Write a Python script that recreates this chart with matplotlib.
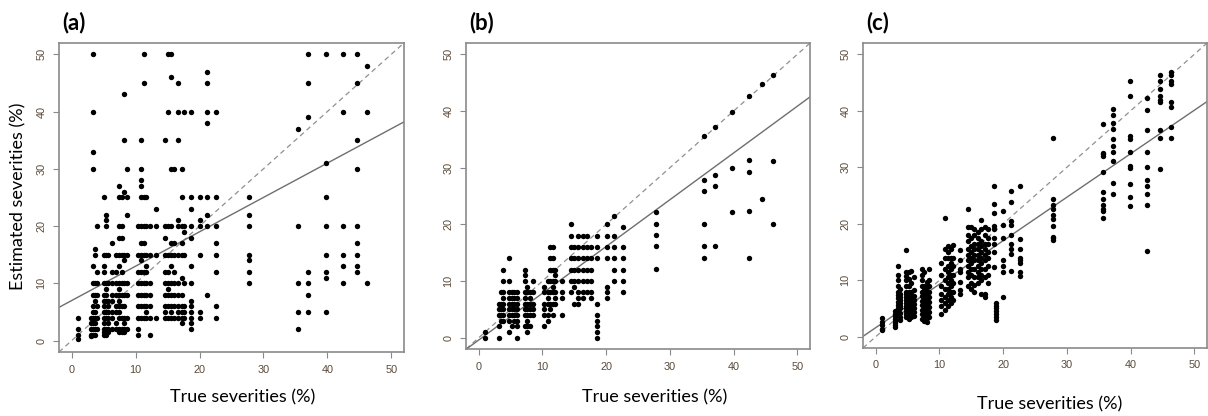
import numpy as np
import matplotlib as mpl
mpl.use('Agg')
import matplotlib.pyplot as plt

## Panel (a) - true severity columns and the estimates in each
a_true = [1.0, 3.0, 3.3, 3.7, 4.0, 5.0, 5.3, 5.7, 6.3, 7.0, 7.4, 7.8, 8.2, 8.6,
          10.3, 10.8, 11.3, 11.7, 12.2, 13.2, 14.6, 15.0, 15.6, 16.0, 16.6, 17.2,
          17.6, 18.6, 20.0, 21.2, 22.6, 27.8, 35.4, 37.0, 39.8, 42.4, 44.6, 46.2]
a_est = [[0.3, 1, 2, 4],
         [0.8, 1, 2, 3, 4],
         [1, 2, 3, 4, 5, 6, 8, 10, 13, 30, 33, 40, 50],
         [1, 2, 3, 4, 5, 7, 8, 10, 15, 16],
         [2, 4, 6, 8, 10, 12, 20],
         [1, 1.5, 2, 3, 4, 5, 6, 7, 8, 10, 12, 13, 15, 25],
         [1, 2, 4, 5, 7, 8, 9, 10, 15, 20, 21, 22],
         [1.5, 2, 3, 4, 5, 6, 7, 10, 15],
         [2, 4, 5, 7, 8, 10, 12, 17],
         [2, 3, 5, 6, 8, 10, 12, 15],
         [1.5, 2, 4, 5, 6, 7, 8, 9, 10, 13, 15, 18, 20, 25, 27],
         [1.5, 2, 4, 6, 8, 10, 12, 15, 18, 20, 25],
         [1.5, 2, 3, 4, 6, 8, 10, 14, 15, 26, 35, 43],
         [2, 4, 8, 10, 15, 22, 25, 30],
         [1, 2, 4, 6, 8, 10, 12, 15, 20],
         [4, 6, 8, 10, 12, 14, 15, 17, 20, 25, 27, 28, 30, 35],
         [4, 6, 8, 10, 12, 15, 17, 20, 25, 45, 50],
         [4, 5, 6, 8, 10, 12, 13, 15, 20, 25],
         [1, 4, 6, 8, 10, 15, 20],
         [4, 15, 20, 23],
         [4, 5, 6, 8, 10, 12, 15, 18, 20, 35],
         [4, 6, 8, 9, 10, 12, 15, 20, 40, 50],
         [4, 5, 6, 8, 10, 13, 15, 17, 20, 30, 46, 50],
         [4, 6, 8, 10, 12, 15, 17, 30],
         [4, 5, 6, 8, 10, 15, 20, 21, 35, 40, 45],
         [3, 4, 5, 6, 8, 11, 15, 17, 20, 25, 30],
         [4, 5, 6, 10, 15, 19, 20, 40],
         [2, 3, 4, 5, 6, 7, 10, 13, 18, 20, 23, 25, 40],
         [4, 5, 15, 20, 21, 25],
         [8, 20, 22, 25, 38, 40, 45, 47],
         [4, 6, 12, 15, 17, 20, 25, 40],
         [10, 12, 14, 15, 20, 22, 25],
         [2, 5, 10, 20, 37],
         [5, 8, 10, 12, 39, 45, 50],
         [5, 11, 12, 15, 20, 25, 31, 50],
         [10, 13, 15, 20, 40, 50],
         [12, 13, 15, 17, 20, 30, 35, 45, 50],
         [10, 40, 48]]
a_fit = (7.0, 0.6)  # intercept, slope

## Panel (b)
b_true = [1.0, 3.1, 3.5, 3.8, 4.8, 5.2, 5.6, 6.0, 7.2, 7.6, 8.0, 8.5, 10.2, 10.8,
          11.2, 11.6, 12.0, 13.1, 14.4, 14.9, 15.6, 16.3, 17.0, 17.6, 18.6, 20.2,
          21.3, 22.6, 27.8, 35.4, 37.0, 39.8, 42.4, 44.5, 46.2]
b_est = [[0, 1],
         [0, 2, 4, 5, 6],
         [3, 4, 5, 6, 8],
         [3, 4, 5, 6, 7, 8, 10, 12],
         [1, 3, 4, 5, 6, 7, 8, 10, 14],
         [2, 4, 5, 6, 7, 8],
         [3, 4, 5, 6, 7, 8],
         [0, 2, 3, 4, 5, 6, 7, 8],
         [2, 4, 5, 6, 7, 8, 10, 11, 12],
         [1, 2, 3, 4, 5, 6, 8, 9],
         [2, 4, 5, 6, 7, 8],
         [4, 5, 6, 8, 10],
         [2, 4, 5, 6, 8, 9],
         [3, 4, 6, 7, 8, 10],
         [5, 6, 8, 10, 12, 14, 16],
         [4, 6, 8, 9, 10, 12, 14, 16],
         [6, 7, 8, 10, 11, 12],
         [4, 7, 8, 10],
         [8, 10, 12, 14, 16, 18, 20],
         [6, 9, 10, 12, 14, 16],
         [6, 7, 8, 10, 12, 14, 16, 18],
         [7, 8, 10, 12, 14, 16, 18],
         [8, 10, 12, 14, 16, 18],
         [7, 8, 10, 12, 14, 16],
         [0, 1, 2, 3, 4, 6, 14, 16, 18],
         [7, 8, 9, 14, 16, 18, 20],
         [10, 12, 14, 16, 18, 21.4],
         [8, 10, 12, 14, 16, 19.5],
         [12.1, 16.1, 18.2, 20.1, 22.1],
         [14.1, 16.1, 20.1, 25.9, 27.9, 35.6],
         [16.1, 26.7, 28.7, 37.2],
         [22.1, 30.0, 39.9],
         [14.1, 22.3, 29.3, 31.3, 42.6],
         [24.4, 44.7],
         [20.1, 31.2, 46.3]]
b_fit = (-0.4, 0.825)

## Panel (c)
c_true = [1.0, 3.1, 3.5, 3.8, 4.8, 5.2, 5.6, 6.0, 7.3, 7.6, 8.0, 8.4, 10.2, 10.9,
          11.4, 11.8, 12.2, 13.2, 14.5, 15.0, 15.5, 16.0, 16.6, 17.2, 17.6, 18.6,
          18.8, 20.0, 21.2, 22.6, 27.9, 35.6, 37.2, 39.9, 42.6, 44.6, 46.4]
c_est = [[1.1, 1.4, 2.0, 2.6, 3.3],
         [1.8, 2.1, 2.4, 2.8, 3.2, 3.6, 4.0, 4.5],
         [3.8, 4.5, 5.0, 5.6, 6.2, 6.8, 7.3, 8.0, 9.0, 10.0, 11.0, 12.6],
         [3.0, 3.5, 4.2, 5.0, 5.5, 6.0, 6.5, 7.0, 7.5, 8.5],
         [3.4, 4.0, 4.5, 5.0, 5.5, 6.0, 6.5, 7.0, 7.5, 8.0, 9.0, 10.0, 10.8, 11.5, 15.4],
         [3.2, 3.8, 4.4, 5.0, 5.6, 6.2, 6.8, 7.4, 8.0, 9.0, 10.2, 11.4],
         [3.5, 4.2, 4.8, 5.4, 6.0, 6.6, 7.2, 8.0, 9.5, 11.6],
         [3.6, 4.3, 5.0, 5.8, 6.5, 7.2, 8.2, 10.5],
         [3.2, 4.0, 4.8, 5.6, 6.4, 7.2, 8.0, 9.0, 10.0, 11.0, 12.0],
         [2.8, 3.5, 4.2, 5.0, 5.8, 6.6, 7.4, 8.2, 9.0, 11.5],
         [2.6, 3.3, 4.0, 4.8, 5.6, 6.4, 7.2, 8.0, 8.8, 9.6],
         [3.5, 4.4, 5.3, 6.2, 7.1, 8.0, 9.0, 10.0, 12.0],
         [4.0, 5.5, 6.5, 7.5, 9.0, 11.0, 13.0],
         [4.8, 6.0, 7.0, 8.5, 10.0, 12.0, 14.0, 15.5, 21.0],
         [5.5, 6.5, 7.5, 8.5, 9.5, 10.5, 11.5, 12.5, 14.0, 15.0, 16.0],
         [6.0, 7.0, 8.0, 9.0, 10.0, 11.0, 12.0, 13.0, 14.0, 15.5],
         [6.5, 8.0, 9.5, 11.0, 12.5, 14.0, 16.3],
         [7.6, 8.2, 9.6, 11.5, 12.0, 13.5, 15.3],
         [9.0, 10.5, 11.5, 12.5, 13.5, 14.5, 15.5, 17.0, 18.0, 19.5, 22.7],
         [8.5, 9.5, 11.0, 12.0, 13.0, 14.0, 15.0, 16.0, 17.5, 19.5],
         [8.0, 9.2, 10.5, 12.0, 13.5, 14.5, 15.5, 16.5, 18.0, 19.0],
         [9.5, 10.5, 11.5, 12.5, 13.5, 14.5, 15.5, 16.5, 17.5, 18.5],
         [7.5, 10.0, 11.0, 12.0, 13.0, 14.0, 15.0, 16.0, 17.0, 19.0, 20.6],
         [7.0, 7.5, 10.5, 12.0, 13.5, 14.5, 15.5, 16.5, 18.0, 19.5],
         [9.5, 11.0, 12.5, 14.0, 15.0, 16.5, 17.5, 19.0],
         [12.3, 15.0, 16.5, 17.5, 19.0, 19.6, 21.9, 23.5, 26.7],
         [3.0, 3.5, 4.0, 4.5, 5.0, 5.5, 6.0],
         [7.0, 11.5, 12.5, 13.6, 17.5, 19.7, 22.3],
         [11.7, 14.7, 15.6, 16.5, 18.0, 19.7, 20.4, 23.8, 25.8],
         [10.8, 11.5, 13.0, 13.5, 14.0, 15.5, 17.3, 26.7],
         [17.1, 17.4, 17.6, 19.6, 20.8, 21.6, 22.6, 23.4, 24.3, 35.2],
         [21.1, 22.3, 22.7, 23.4, 24.3, 25.7, 29.2, 32.0, 32.3, 32.6, 37.6],
         [25.3, 27.2, 31.2, 32.7, 33.8, 35.0, 36.7, 37.9, 39.2, 40.3],
         [23.2, 24.7, 27.1, 29.8, 30.2, 32.7, 35.0, 35.6, 42.7, 45.2],
         [15.1, 23.4, 25.3, 26.7, 27.8, 30.1, 32.7, 36.6, 40.2, 42.2],
         [29.7, 35.2, 36.6, 41.5, 42.0, 42.6, 43.8, 45.2, 46.4],
         [35.2, 37.1, 40.6, 41.6, 44.7, 45.2, 46.4, 46.8]]
c_fit = (1.6, 0.77)

panels = [('(a)', a_true, a_est, a_fit, [0.0488, 0.1538, 0.2856, 0.743]),
          ('(b)', b_true, b_est, b_fit, [0.3858, 0.1610, 0.2848, 0.7356]),
          ('(c)', c_true, c_est, c_fit, [0.7144, 0.1635, 0.2848, 0.7330])]
xlab_pos = [(243, 397), (655, 397), (1050, 404)]  # pixel centres of x labels

W, H = 1208, 416
fig = plt.figure(figsize=(W / 100, H / 100), dpi=100)

for (tag, xs, ys, fit, rect), (lx, ly) in zip(panels, xlab_pos):
    ax = fig.add_axes(rect)
    px = np.concatenate([[x] * len(v) for x, v in zip(xs, ys)])
    py = np.concatenate([v for v in ys])
    ax.scatter(px, py, s=15, c='black', linewidths=0, zorder=3)
    ax.axline((0, 0), slope=1, color='#909090', lw=0.9, ls=(0, (4, 3)), zorder=2)
    ax.axline((0, fit[0]), slope=fit[1], color='#6e6e6e', lw=1.0, zorder=2)
    ax.set_xlim(-2, 52)
    ax.set_ylim(-2, 52)
    ax.set_xticks(range(0, 51, 10))
    ax.set_yticks(range(0, 51, 10))
    for sp in ax.spines.values():
        sp.set_color('#8a8a8a')
        sp.set_linewidth(1.2)
    ax.tick_params(direction='out', length=4, width=0.8, color='#8a8a8a',
                   labelsize=7.8, labelcolor='#5a4a3a')
    ax.tick_params(axis='x', pad=5)
    ax.tick_params(axis='y', pad=5)
    for t in ax.get_xticklabels() + ax.get_yticklabels():
        t.set_family('Liberation Sans')
    for t in ax.get_yticklabels():
        t.set_rotation(90)
        t.set_va('center')
    ## panel tag above the box
    fig.text(rect[0] + 3 / W, 1 - 23 / H, tag, fontsize=16, fontweight='bold',
             family='Lato', ha='left', va='center')
    fig.text(lx / W, 1 - ly / H, 'True severities (%)', fontsize=13,
             family='Lato', ha='center', va='center')

fig.text(18 / W, 1 - 196 / H, 'Estimated severities (%)', fontsize=13,
         family='Lato', rotation=90, ha='center', va='center')

plt.savefig('out.png', dpi=100)
